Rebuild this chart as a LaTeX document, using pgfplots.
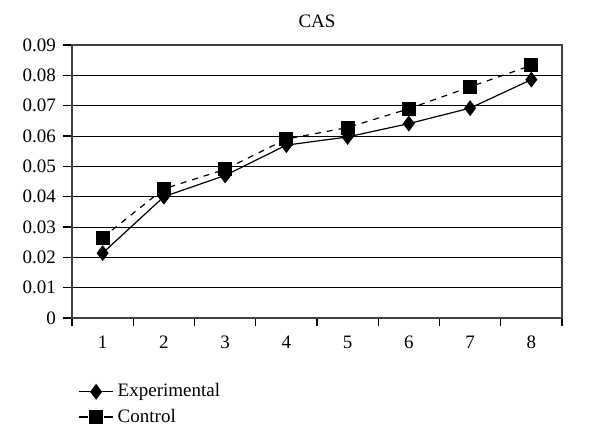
\documentclass[border=0pt]{standalone}
\usepackage{fontspec}
\setmainfont{Liberation Serif}
\usepackage{pgfplots}
\pgfplotsset{compat=1.18}

\pgfplotstableread{
x  exp     ctrl
1  0.0214  0.0265
2  0.0400  0.0426
3  0.0470  0.0490
4  0.0570  0.0590
5  0.0597  0.0628
6  0.0641  0.0690
7  0.0692  0.0762
8  0.0786  0.0833
}\castable

\begin{document}
\begin{tikzpicture}
\path[use as bounding box] (0pt,0pt) rectangle (300pt,223.5pt);
\begin{axis}[
    at={(36pt,64.5pt)}, anchor=south west,
    width=245pt, height=136.5pt, scale only axis,
    xmin=0.5, xmax=8.5, ymin=0, ymax=0.09,
    font=\fontsize{9.5}{11.4}\selectfont,
    /pgf/number format/assume math mode=true,
    scaled y ticks=false,
    title={CAS},
    title style={yshift=-1pt},
    xtick={1,...,8},
    minor xtick={0.5,1.5,...,8.5},
    major x tick style={draw=none},
    ytick={0,0.01,...,0.09},
    yticklabels={0,0.01,0.02,0.03,0.04,0.05,0.06,0.07,0.08,0.09},
    tick pos=left, tick align=outside,
    major tick length=4.5pt, minor tick length=4pt,
    xticklabel style={yshift=-1pt},
    ymajorgrids,
    grid style={black, line width=0.5pt},
    axis line style={black!75, line width=0.6pt},
    tick style={black, line width=0.6pt},
    legend style={at={(0,-0.21)}, anchor=north west, draw=none, fill=none,
        row sep=0.5pt, font=\fontsize{9.5}{11.4}\selectfont},
    legend cell align=left,
  ]
  \addplot[black, line width=0.6pt, mark=diamond*, mark size=3.5pt]
      table[x=x, y=exp] {\castable};
  \addplot[black, line width=0.6pt, dashed, mark=square*, mark size=3.2pt,
      mark options={solid},
      legend image code/.code={
        \draw[dash pattern=on 4.5pt off 8pt on 4.5pt off 2pt]
            (0pt,0pt) -- (17pt,0pt);
        \draw[solid] plot coordinates {(8.5pt,0pt)};
      }]
      table[x=x, y=ctrl] {\castable};
  \legend{Experimental, Control}
\end{axis}
\end{tikzpicture}
\end{document}
